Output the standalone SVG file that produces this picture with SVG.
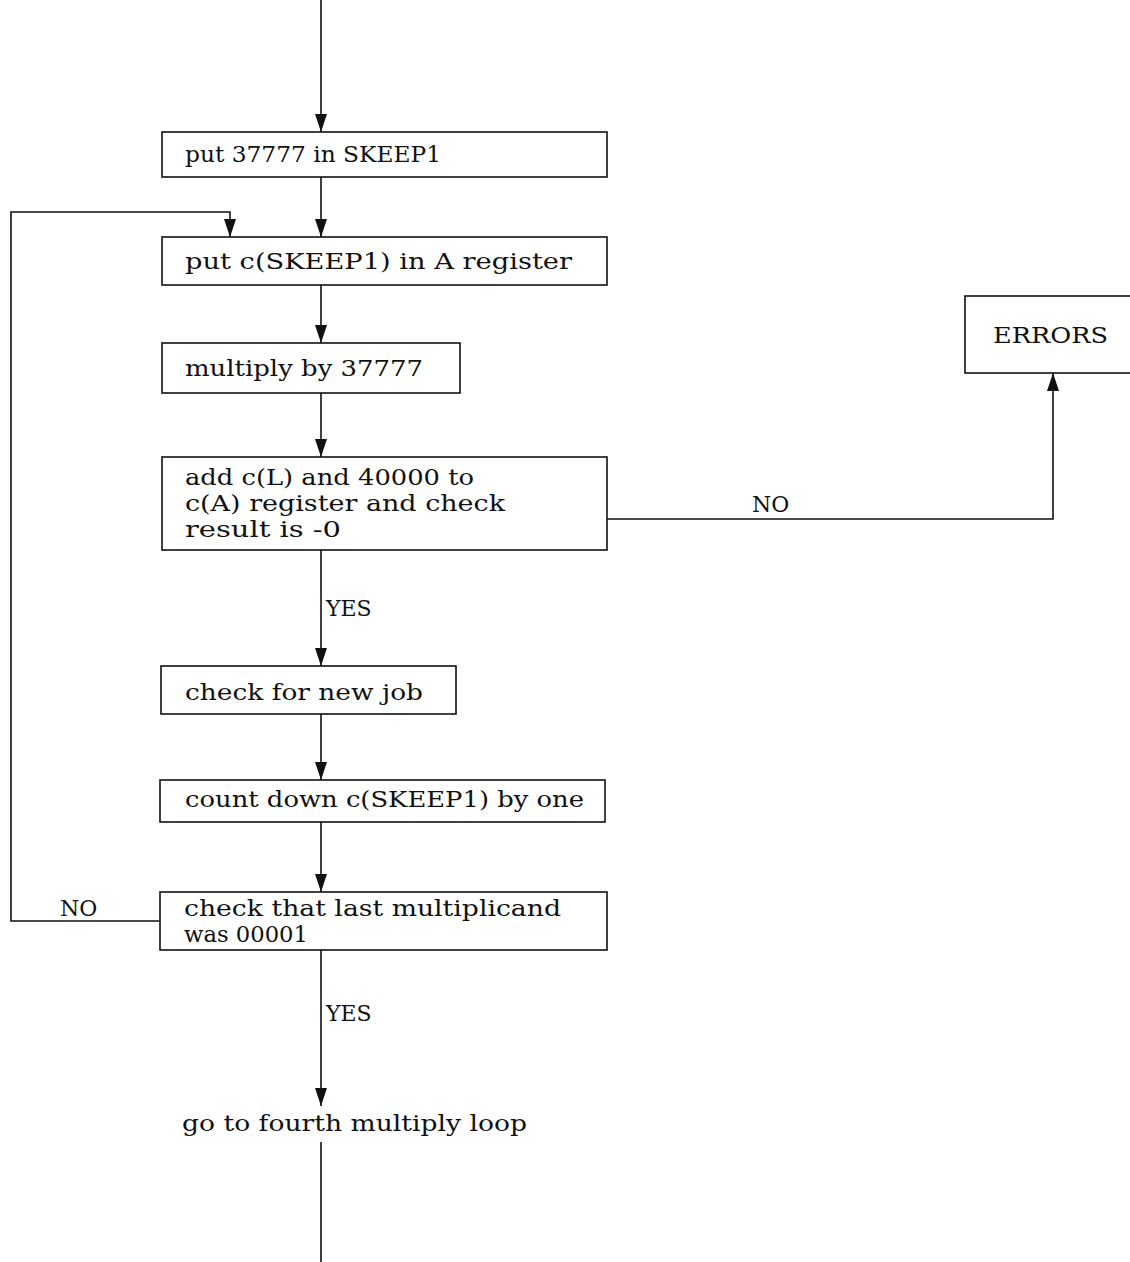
<svg xmlns="http://www.w3.org/2000/svg" width="1130" height="1262" viewBox="0 0 1130 1262">
<style>
.box{fill:#fff;stroke:#111;stroke-width:1.6}
.ln{fill:none;stroke:#111;stroke-width:1.6}
text{font-family:"DejaVu Serif","Liberation Serif",serif;font-size:22px;fill:#111}
</style>
<defs>
<marker id="ah" viewBox="0 0 18 12" refX="18" refY="6" markerWidth="18" markerHeight="12" markerUnits="userSpaceOnUse" orient="auto">
<path d="M0,0 L18,6 L0,12 Z" fill="#111"/>
</marker>
</defs>
<rect width="1130" height="1262" fill="#fff"/>
<g id="connectors">
<path class="ln" d="M321,0 V132" marker-end="url(#ah)"/>
<path class="ln" d="M321,177 V237" marker-end="url(#ah)"/>
<path class="ln" d="M321,285 V343" marker-end="url(#ah)"/>
<path class="ln" d="M321,393 V457" marker-end="url(#ah)"/>
<path class="ln" d="M321,550 V666" marker-end="url(#ah)"/>
<path class="ln" d="M321,714 V780" marker-end="url(#ah)"/>
<path class="ln" d="M321,822 V892" marker-end="url(#ah)"/>
<path class="ln" d="M321,950 V1106" marker-end="url(#ah)"/>
<path class="ln" d="M321,1142 V1262"/>
<path class="ln" d="M607,519 H1053 V373" marker-end="url(#ah)"/>
<path class="ln" d="M160,921 H11 V212 H230 V237" marker-end="url(#ah)"/>
<text x="752" y="512">NO</text>
<text x="326" y="616">YES</text>
<text x="60" y="916">NO</text>
<text x="326" y="1021">YES</text>
</g>
<g id="n1"><rect class="box" x="162" y="132" width="445" height="45"/><text x="185" y="162" textLength="256" lengthAdjust="spacingAndGlyphs">put 37777 in SKEEP1</text></g>
<g id="n2"><rect class="box" x="162" y="237" width="445" height="48"/><text x="185" y="269" textLength="387" lengthAdjust="spacingAndGlyphs">put c(SKEEP1) in A register</text></g>
<g id="n3"><rect class="box" x="162" y="343" width="298" height="50"/><text x="185" y="376" textLength="238" lengthAdjust="spacingAndGlyphs">multiply by 37777</text></g>
<g id="n4"><rect class="box" x="162" y="457" width="445" height="93"/>
<text x="185" y="485" textLength="289" lengthAdjust="spacingAndGlyphs">add c(L) and 40000 to</text>
<text x="185" y="511" textLength="320" lengthAdjust="spacingAndGlyphs">c(A) register and check</text>
<text x="185" y="537" textLength="156" lengthAdjust="spacingAndGlyphs">result is -0</text></g>
<g id="n5"><rect class="box" x="161" y="666" width="295" height="48"/><text x="185" y="700" textLength="238" lengthAdjust="spacingAndGlyphs">check for new job</text></g>
<g id="n6"><rect class="box" x="160" y="780" width="445" height="42"/><text x="185" y="807" textLength="399" lengthAdjust="spacingAndGlyphs">count down c(SKEEP1) by one</text></g>
<g id="n7"><rect class="box" x="160" y="892" width="447" height="58"/>
<text x="184" y="916" textLength="377" lengthAdjust="spacingAndGlyphs">check that last multiplicand</text>
<text x="184" y="942" textLength="124" lengthAdjust="spacingAndGlyphs">was 00001</text></g>
<g id="n8"><rect class="box" x="965" y="296" width="170" height="77"/><text x="993" y="343" textLength="115" lengthAdjust="spacingAndGlyphs">ERRORS</text></g>
<g id="n9"><text x="182" y="1131" textLength="345" lengthAdjust="spacingAndGlyphs">go to fourth multiply loop</text></g>
</svg>
